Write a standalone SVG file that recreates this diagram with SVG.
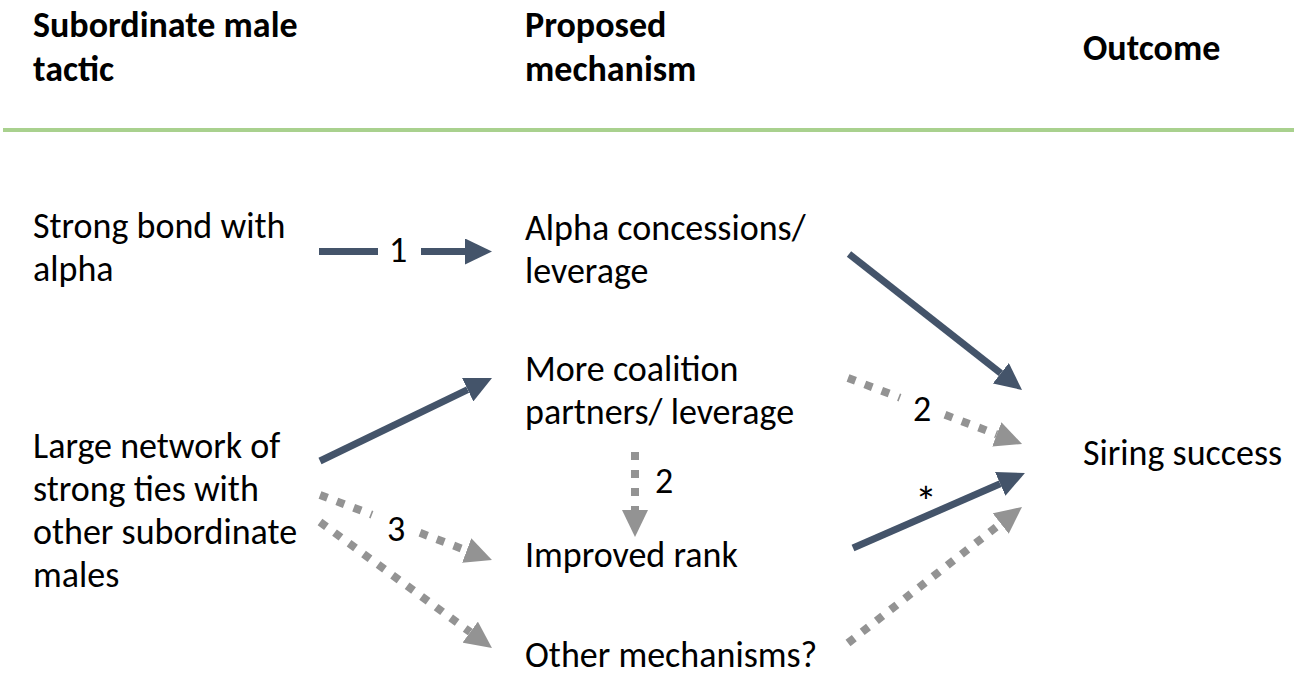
<svg xmlns="http://www.w3.org/2000/svg" width="1294" height="676" viewBox="0 0 1294 676">
<style>
text{font-family:Carlito,Lato,"Open Sans",sans-serif;font-size:36px;fill:#000}
.h{font-weight:bold}
.ast{font-size:44px}
.dk{stroke:#44546A;stroke-width:7;fill:none}
.gr{stroke:#939393;stroke-width:8;fill:none;stroke-dasharray:8 10}
</style>
<defs>
<marker id="ad" markerUnits="userSpaceOnUse" markerWidth="28" markerHeight="26" refX="0" refY="13" orient="auto" viewBox="0 0 28 26"><path d="M0,0 L27,13 L0,26 z" fill="#44546A"/></marker>
<marker id="ag" markerUnits="userSpaceOnUse" markerWidth="28" markerHeight="26" refX="0" refY="13" orient="auto" viewBox="0 0 28 26"><path d="M0,0 L27,13 L0,26 z" fill="#939393"/></marker>
</defs>
<rect x="3" y="128" width="1291" height="4" fill="#A9D18E"/>
<g id="headers">
<text class="h" x="33" y="37">Subordinate male</text>
<text class="h" x="33" y="81">tactic</text>
<text class="h" x="525" y="37">Proposed</text>
<text class="h" x="525" y="81">mechanism</text>
<text class="h" x="1083" y="60">Outcome</text>
</g>
<g id="strong-bond"><text x="33" y="238">Strong bond with</text><text x="33" y="281">alpha</text></g>
<g id="large-network"><text x="33" y="458">Large network of</text><text x="33" y="501">strong ties with</text><text x="33" y="544">other subordinate</text><text x="33" y="587">males</text></g>
<g id="alpha-concessions"><text x="525" y="240">Alpha concessions/</text><text x="525" y="283">leverage</text></g>
<g id="more-coalition"><text x="525" y="381">More coalition</text><text x="525" y="424">partners/ leverage</text></g>
<g id="improved-rank"><text x="525" y="567">Improved rank</text></g>
<g id="other-mechanisms"><text x="525" y="667">Other mechanisms?</text></g>
<g id="siring-success"><text x="1083" y="465">Siring success</text></g>
<g id="connectors">
<line class="dk" x1="319" y1="251.5" x2="378" y2="251.5"/>
<line class="dk" x1="421" y1="251.5" x2="465" y2="251.5" marker-end="url(#ad)"/>
<text x="389" y="262">1</text>
<line class="dk" x1="320" y1="461" x2="467.7" y2="389.7" marker-end="url(#ad)"/>
<line class="dk" x1="849" y1="254" x2="1000.8" y2="373.3" marker-end="url(#ad)"/>
<line class="dk" x1="853" y1="548" x2="1000.2" y2="483.8" marker-end="url(#ad)"/>
<text class="ast" x="915" y="517">*</text>
<line class="gr" x1="848" y1="378" x2="900" y2="397.7"/>
<line class="gr" x1="945" y1="414.8" x2="996.8" y2="434.4" marker-end="url(#ag)"/>
<text x="913" y="421">2</text>
<line class="gr" x1="635" y1="452" x2="635" y2="510" marker-end="url(#ag)"/>
<text x="655" y="493">2</text>
<line class="gr" x1="848" y1="643" x2="1000.7" y2="523.6" marker-end="url(#ag)"/>
<line class="gr" x1="320" y1="495" x2="372" y2="514.7"/>
<line class="gr" x1="420" y1="532.8" x2="466.7" y2="550.5" marker-end="url(#ag)"/>
<text x="387" y="541">3</text>
<line class="gr" x1="320" y1="522" x2="470.2" y2="632.1" marker-end="url(#ag)"/>
</g>
</svg>
